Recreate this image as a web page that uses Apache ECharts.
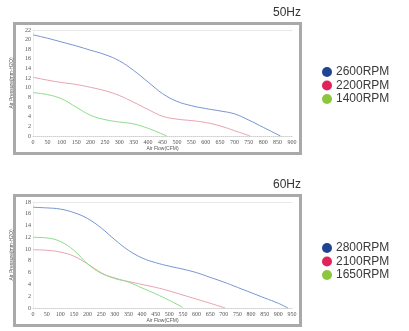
<!DOCTYPE html>
<html>
<head>
<meta charset="utf-8">
<script src="https://cdn.jsdelivr.net/npm/echarts@6/dist/echarts.min.js"></script>
<style>
  html, body { margin: 0; padding: 0; background: #fff; }
  #chart { width: 409px; height: 331px; }
</style>
</head>
<body>
<div id="chart"></div>
<script>
// 50Hz fan curves: air flow (CFM) vs static pressure (mm-H2O)
const flow50 = [0, 50, 100, 150, 200, 250, 300, 350, 400, 450, 500, 550, 600, 650, 700, 750, 800, 860];
const rpm2600 = [21.0, 20.3, 19.5, 18.7, 17.8, 16.9, 15.6, 13.6, 11.2, 8.8, 7.2, 6.3, 5.7, 5.2, 4.6, 3.3, 1.8, 0];
const flow50b = [0, 50, 100, 150, 200, 250, 300, 350, 400, 450, 500, 550, 600, 650, 700, 755];
const rpm2200 = [12.2, 11.6, 11.1, 10.7, 10.1, 9.4, 8.4, 7.0, 5.5, 4.1, 3.5, 3.2, 2.8, 2.1, 1.1, 0];
const flow50c = [0, 50, 100, 150, 200, 250, 300, 350, 400, 465];
const rpm1400 = [9.0, 8.6, 7.7, 6.0, 4.3, 3.4, 2.9, 2.5, 1.6, 0];

// 60Hz fan curves
const flow60 = [0, 50, 100, 150, 200, 250, 300, 350, 400, 450, 500, 550, 600, 650, 700, 750, 800, 850, 900, 935];
const rpm2800 = [17.1, 17.0, 16.8, 16.2, 15.2, 13.6, 11.6, 9.8, 8.5, 7.7, 7.1, 6.6, 6.0, 5.2, 4.4, 3.5, 2.6, 1.7, 0.8, 0];
const flow60b = [0, 50, 100, 150, 200, 250, 300, 350, 400, 450, 500, 550, 600, 650, 705];
const rpm2100 = [9.9, 9.8, 9.5, 8.8, 7.5, 6.0, 5.0, 4.5, 4.0, 3.5, 2.9, 2.2, 1.5, 0.8, 0];
const flow60c = [0, 50, 100, 150, 200, 250, 300, 350, 400, 450, 500, 550];
const rpm1650 = [12.0, 11.9, 11.3, 9.8, 7.5, 5.9, 5.1, 4.4, 3.4, 2.4, 1.3, 0.1];

const names50 = ['2600RPM', '2200RPM', '1400RPM'];
const names60 = ['2800RPM', '2100RPM', '1650RPM'];
const panelTitles = ['50Hz', '60Hz'];

const lineColors = ['#7795d2', '#e6a4ae', '#8edc8a'];
const legendColors = ['#1d4592', '#e0245a', '#8cc63f'];

const pairs = (xs, ys) => xs.map((x, i) => [x, ys[i]]);

const tickFont = { fontFamily: 'Liberation Serif', fontSize: 6, color: '#555' };
const nameFont = { fontFamily: 'Liberation Sans', fontSize: 5, color: '#555' };

function xAxisFor(gridIndex, max) {
  return [{
    type: 'value', gridIndex, min: 0, max, interval: 50,
    name: 'Air Flow(CFM)', nameLocation: 'middle', nameGap: 9,
    nameTextStyle: nameFont,
    axisLine: { show: true, lineStyle: { color: '#d0d0d0', type: 'dotted', width: 1 } },
    axisTick: { show: false },
    axisLabel: Object.assign({ margin: 3 }, tickFont),
    splitLine: { show: false }
  }, {
    type: 'value', gridIndex, min: 0, max, position: 'top',
    axisLine: { show: true, lineStyle: { color: '#e8e8e8', width: 1 } },
    axisTick: { show: false }, axisLabel: { show: false }, splitLine: { show: false }
  }];
}

function yAxisFor(gridIndex, max) {
  return {
    type: 'value', gridIndex, min: 0, max, interval: 2,
    name: 'Air Pressure(mm-H2O)', nameLocation: 'middle', nameGap: 11,
    nameTextStyle: nameFont,
    axisLine: { show: true, lineStyle: { color: '#eeeeee', width: 1 } },
    axisTick: { show: false },
    axisLabel: Object.assign({ margin: 2 }, tickFont),
    splitLine: { show: false }
  };
}

function curve(name, data, colorIdx, xAxisIndex, yAxisIndex) {
  return {
    name, type: 'line', data, xAxisIndex, yAxisIndex,
    smooth: 0.4, showSymbol: false, symbol: 'none',
    lineStyle: { color: lineColors[colorIdx], width: 1 },
    itemStyle: { color: lineColors[colorIdx] }
  };
}

function legendFor(names, top) {
  return {
    orient: 'vertical', left: 322, top, padding: 0,
    icon: 'circle', itemWidth: 10, itemHeight: 10, itemGap: 1.5,
    textStyle: { fontFamily: 'Liberation Sans', fontSize: 12, color: '#3a3a3a', lineHeight: 12, padding: [0, 0, 0, -1] },
    data: names.map((n, i) => ({ name: n, itemStyle: { color: legendColors[i] } })),
    selectedMode: false
  };
}

const titleStyle = { fontFamily: 'Liberation Sans', fontSize: 12, fontWeight: 'normal', color: '#333' };

const chart = echarts.init(document.getElementById('chart'), null, { renderer: 'canvas' });

chart.setOption({
  animation: false,
  backgroundColor: '#fff',
  title: [
    { text: panelTitles[0], right: 108, top: 7, padding: 0, textStyle: titleStyle },
    { text: panelTitles[1], right: 108, top: 179, padding: 0, textStyle: titleStyle }
  ],
  graphic: [
    { type: 'rect', shape: { x: 14.5, y: 23.5, width: 286, height: 130 }, style: { fill: 'none', stroke: '#a9a9a9', lineWidth: 3 }, silent: true },
    { type: 'rect', shape: { x: 14.5, y: 195.5, width: 286, height: 130 }, style: { fill: 'none', stroke: '#a9a9a9', lineWidth: 3 }, silent: true }
  ],
  legend: [legendFor(names50, 66), legendFor(names60, 242)],
  grid: [
    { left: 33, right: 117, top: 30, bottom: 195 },
    { left: 33, right: 117, top: 202, bottom: 23 }
  ],
  xAxis: [...xAxisFor(0, 900), ...xAxisFor(1, 950)],
  yAxis: [yAxisFor(0, 22), yAxisFor(1, 18)],
  series: [
    curve(names50[0], pairs(flow50, rpm2600), 0, 0, 0),
    curve(names50[1], pairs(flow50b, rpm2200), 1, 0, 0),
    curve(names50[2], pairs(flow50c, rpm1400), 2, 0, 0),
    curve(names60[0], pairs(flow60, rpm2800), 0, 2, 1),
    curve(names60[1], pairs(flow60b, rpm2100), 1, 2, 1),
    curve(names60[2], pairs(flow60c, rpm1650), 2, 2, 1)
  ]
});
</script>
</body>
</html>
